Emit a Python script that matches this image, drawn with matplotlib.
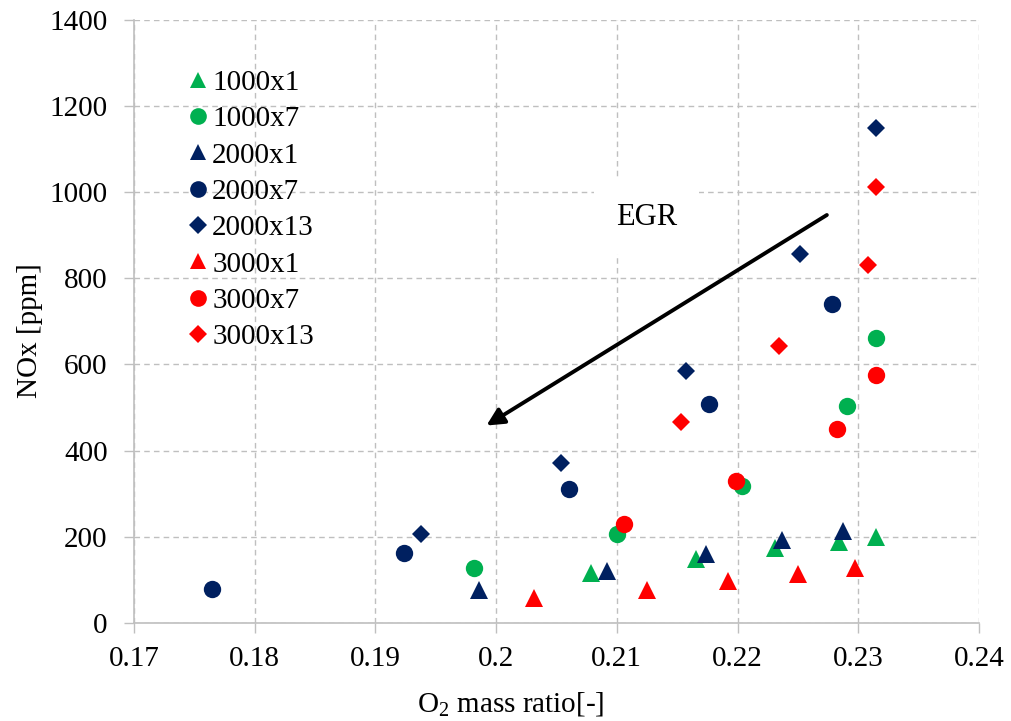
import matplotlib.pyplot as plt

plt.rcParams['font.family'] = ['Liberation Serif', 'DejaVu Serif']
plt.rcParams['mathtext.fontset'] = 'custom'
plt.rcParams['mathtext.rm'] = 'Liberation Serif'

# O2 mass ratio [-] and NOx [ppm] per operating point (rpm x load)
x_1000x1 = [0.2079, 0.2166, 0.2231, 0.2284, 0.2315]
y_1000x1 = [116, 149, 174, 187, 199]
x_1000x7 = [0.1982, 0.2100, 0.2204, 0.2291, 0.2315]
y_1000x7 = [126, 205, 317, 503, 661]
x_2000x1 = [0.1986, 0.2092, 0.2174, 0.2237, 0.2287]
y_2000x1 = [75, 119, 160, 191, 212]
x_2000x7 = [0.1765, 0.1924, 0.2060, 0.2176, 0.2278]
y_2000x7 = [79, 163, 310, 507, 740]
x_2000x13 = [0.1938, 0.2054, 0.2157, 0.2252, 0.2315]
y_2000x13 = [205, 371, 584, 857, 1148]
x_3000x1 = [0.2031, 0.2125, 0.2192, 0.2250, 0.2297]
y_3000x1 = [57, 77, 96, 114, 126]
x_3000x7 = [0.2106, 0.2199, 0.2282, 0.2315]
y_3000x7 = [229, 329, 450, 576]
x_3000x13 = [0.2153, 0.2234, 0.2308, 0.2315]
y_3000x13 = [467, 643, 831, 1012]

green = '#00B050'
navy = '#002060'
red = '#FF0000'

series = [
    ('1000x1', x_1000x1, y_1000x1, green, '^', 12.5),
    ('1000x7', x_1000x7, y_1000x7, green, 'o', 12.5),
    ('2000x1', x_2000x1, y_2000x1, navy, '^', 12.5),
    ('2000x7', x_2000x7, y_2000x7, navy, 'o', 12.5),
    ('2000x13', x_2000x13, y_2000x13, navy, 'D', 9.5),
    ('3000x1', x_3000x1, y_3000x1, red, '^', 12.5),
    ('3000x7', x_3000x7, y_3000x7, red, 'o', 12.5),
    ('3000x13', x_3000x13, y_3000x13, red, 'D', 9.5),
]

fig = plt.figure(figsize=(10.11, 7.21), dpi=100)
ax = fig.add_axes([0.1325, 0.1363, 0.8358, 0.836])

for name, xs, ys, col, mk, ms in series:
    ax.plot(xs, ys, linestyle='none', marker=mk, markersize=ms,
            color=col, markeredgewidth=0, label=name, zorder=3)

ax.set_xlim(0.17, 0.24)
ax.set_ylim(0, 1400)
ax.set_xticks([0.17, 0.18, 0.19, 0.20, 0.21, 0.22, 0.23, 0.24])
ax.set_xticklabels(['0.17', '0.18', '0.19', '0.2', '0.21', '0.22', '0.23', '0.24'])
ax.set_yticks(range(0, 1401, 200))

ax.grid(True, linestyle=(0, (4, 3)), color='#BFBFBF', linewidth=1, zorder=0)
ax.set_axisbelow(True)
for s in ['top', 'right']:
    ax.spines[s].set_visible(False)
for s in ['left', 'bottom']:
    ax.spines[s].set_color('#BFBFBF')
    ax.spines[s].set_linewidth(1.2)
ax.tick_params(direction='out', length=7, width=1, color='#BFBFBF',
               labelsize=21)
ax.tick_params(axis='x', pad=10)
ax.tick_params(axis='y', pad=12)

ax.set_xlabel('O$_2$ mass ratio[-]', fontsize=21)
ax.set_ylabel('NOx [ppm]', fontsize=21)
ax.xaxis.set_label_coords(0.446, -0.112)
ax.yaxis.set_label_coords(-0.108, 0.484)

# EGR direction
ax.annotate('', xy=(0.1992, 458), xytext=(0.2274, 947),
            arrowprops=dict(arrowstyle='-|>', color='black', lw=2.8,
                            mutation_scale=26, shrinkA=0, shrinkB=0),
            zorder=4)
ax.text(0.21245, 942, 'EGR', fontsize=22, ha='center', va='center',
        bbox=dict(facecolor='white', edgecolor='none', pad=16), zorder=2)

leg = ax.legend(loc='upper left', bbox_to_anchor=(0.046, 0.937), frameon=False,
                fontsize=21, handletextpad=0.05, handlelength=0.9,
                labelspacing=0.34, borderaxespad=0)
for h in leg.legend_handles:
    if h.get_marker() == 'D':
        h.set_markersize(9.5)
    else:
        h.set_markersize(12)

fig.savefig('out.png', dpi=100)
